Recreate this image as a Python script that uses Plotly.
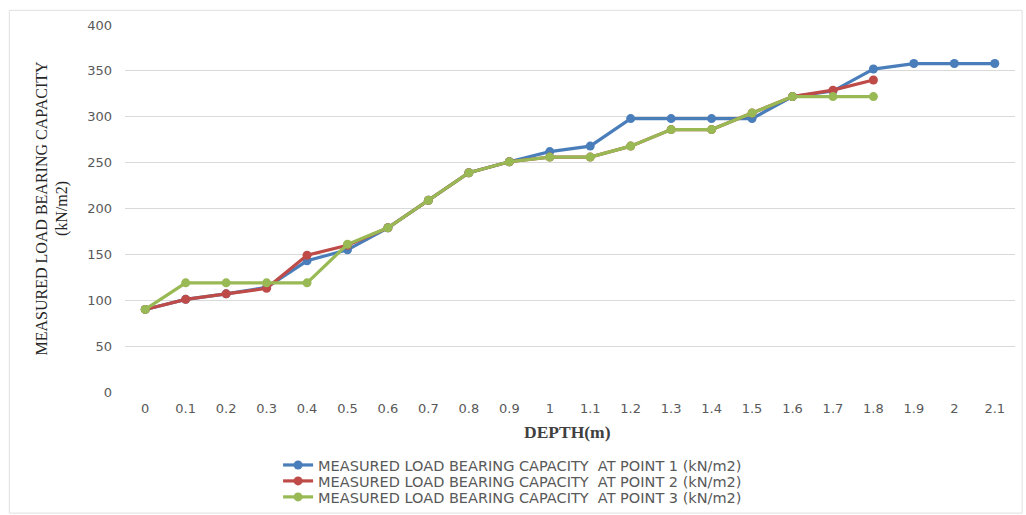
import plotly.graph_objects as go

depth = ["0", "0.1", "0.2", "0.3", "0.4", "0.5", "0.6", "0.7", "0.8", "0.9", "1", "1.1",
         "1.2", "1.3", "1.4", "1.5", "1.6", "1.7", "1.8", "1.9", "2", "2.1"]
point1 = [90, 101, 107, 114, 143, 155, 179, 209, 239, 251, 262, 268,
          298, 298, 298, 298, 322, 328, 352, 358, 358, 358]
point2 = [90, 101, 107, 113, 149, 160, 179, 209, 239, 251, 256, 256,
          268, 286, 286, 304, 322, 329, 340]
point3 = [90, 119, 119, 119, 119, 161, 179, 209, 239, 251, 256, 256,
          268, 286, 286, 304, 322, 322, 322]
names = ["MEASURED LOAD BEARING CAPACITY  AT POINT 1 (kN/m2)",
         "MEASURED LOAD BEARING CAPACITY  AT POINT 2 (kN/m2)",
         "MEASURED LOAD BEARING CAPACITY  AT POINT 3 (kN/m2)"]
colors = ["#4a7ebb", "#be4b48", "#98b954"]
legend_ids = ["legend", "legend2", "legend3"]
legend_y = [-0.199, -0.2425, -0.286]

fig = go.Figure()
for vals, name, col, lid in zip([point1, point2, point3], names, colors, legend_ids):
    fig.add_trace(go.Scatter(
        x=depth[:len(vals)], y=vals, name=name, mode="lines+markers", legend=lid,
        line=dict(color=col, width=3.2), marker=dict(color=col, size=9)))

leg_common = dict(x=0.172, xanchor="left", yanchor="middle",
                  font=dict(family="DejaVu Sans", size=14.5, color="#595959"),
                  itemwidth=30, bgcolor="rgba(0,0,0,0)")
legends = {}
for lid, ly in zip(legend_ids, legend_y):
    legends[lid] = dict(leg_common, y=ly)

fig.update_layout(
    width=1026, height=515,
    margin=dict(l=125, r=11, t=25, b=123, autoexpand=False),
    paper_bgcolor="white", plot_bgcolor="white",
    font=dict(family="DejaVu Sans", size=13, color="#595959"),
    showlegend=True,
    **legends,
    xaxis=dict(type="category", categoryorder="array", categoryarray=depth,
               range=[-0.5, len(depth) - 0.5],
               showgrid=False, showline=False, zeroline=False, ticks="",
               ticklabelstandoff=7, automargin=False,
               tickfont=dict(family="DejaVu Sans", size=13, color="#595959")),
    yaxis=dict(range=[0, 400], dtick=50, showgrid=True, gridcolor="#d9d9d9", gridwidth=1,
               zeroline=False, showline=False, ticks="", automargin=False,
               ticklabelstandoff=12,
               tickfont=dict(family="DejaVu Sans", size=13, color="#595959")),
    annotations=[
        dict(text="<b>DEPTH(m)</b>", xref="paper", yref="paper", x=0.497, y=-0.109,
             xanchor="center", yanchor="middle", showarrow=False,
             font=dict(family="Liberation Serif", size=17.5, color="#404040")),
        dict(text="MEASURED LOAD BEARING CAPACITY<br>(kN/m2)", xref="paper", yref="paper",
             x=-0.082, y=0.5, xanchor="center", yanchor="middle", showarrow=False,
             textangle=-90,
             font=dict(family="Liberation Serif", size=16, color="#262626")),
    ],
)
fig.add_shape(type="rect", xref="paper", yref="paper", x0=-0.13, x1=1.008, y0=-0.33, y1=1.04,
              line=dict(color="#e0e0e0", width=1), layer="below")
fig.write_html("out.html", config={"displayModeBar": False},
               post_script="document.body.style.margin='0';")
